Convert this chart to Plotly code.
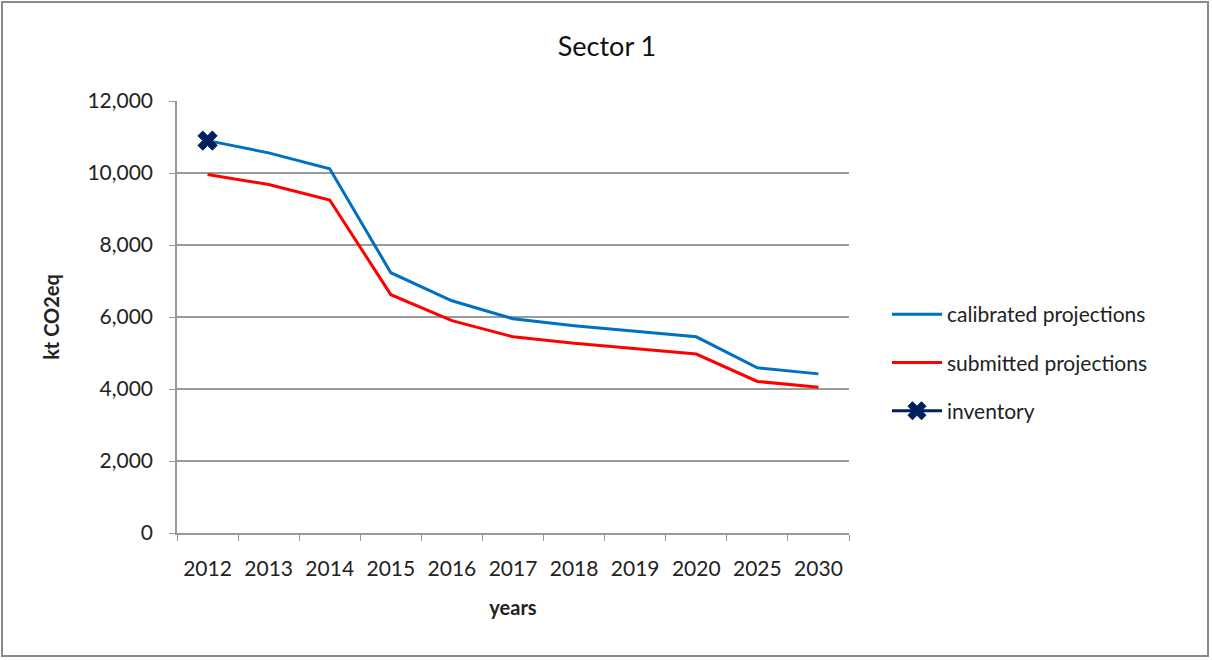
import plotly.graph_objects as go

years = ["2012", "2013", "2014", "2015", "2016", "2017", "2018", "2019", "2020", "2025", "2030"]
calibrated = [10900, 10560, 10120, 7230, 6450, 5950, 5760, 5610, 5450, 4590, 4420]
submitted = [9960, 9680, 9250, 6620, 5900, 5450, 5270, 5120, 4970, 4210, 4050]
inventory_years = ["2012"]
inventory = [10900]

font_family = "Lato, 'Open Sans', sans-serif"

fig = go.Figure()
fig.add_trace(go.Scatter(x=years, y=calibrated, mode="lines", name="calibrated projections",
                         line=dict(color="#0070C0", width=3), legendgroup="a"))
fig.add_trace(go.Scatter(x=years, y=submitted, mode="lines", name="submitted projections",
                         line=dict(color="#FF0000", width=3), legendgroup="b"))
fig.add_trace(go.Scatter(x=inventory_years, y=inventory, mode="lines+markers", name="inventory",
                         line=dict(color="#002060", width=3),
                         marker=dict(symbol="x", size=17, color="#002060",
                                     line=dict(width=1, color="#002060")),
                         legendgroup="c"))

fig.update_layout(
    width=1212, height=660,
    margin=dict(l=177, r=363, t=101, b=127),
    paper_bgcolor="white", plot_bgcolor="white",
    font=dict(family=font_family, size=21, color="#222222"),
    title=dict(text="Sector 1", x=607 / 1212, xanchor="center", y=1 - 47 / 660, yanchor="middle",
               font=dict(size=27, color="#111111")),
    showlegend=True,
    legend=dict(x=(887 - 177) / 672, xanchor="left", y=(533 - 294) / 432, yanchor="top",
                font=dict(size=21, color="#222222"), traceorder="grouped", tracegroupgap=18,
                itemwidth=50, bgcolor="rgba(0,0,0,0)"),
    xaxis=dict(type="category", tickson="boundaries", ticks="outside", ticklen=6,
               tickcolor="#999999", showline=True, linecolor="#999999", linewidth=1.5,
               showgrid=False, tickfont=dict(size=21), ticklabelstandoff=16,
               title=dict(text="<b>years</b>", font=dict(size=20), standoff=22),
               range=[-0.5, 10.5]),
    yaxis=dict(range=[0, 12000], dtick=2000, tickformat=",d", ticks="outside", ticklen=6,
               tickcolor="#999999", showline=True, linecolor="#999999", linewidth=1.5,
               showgrid=True, gridcolor="#9a9a9a", gridwidth=1.5, zeroline=False,
               tickfont=dict(size=21), ticklabelstandoff=12,
               title=dict(text="<b>kt CO2eq</b>", font=dict(size=20), standoff=22)),
    shapes=[dict(type="rect", xref="paper", yref="paper",
                 x0=(2 - 177) / 672, x1=(1208 - 177) / 672,
                 y0=(533 - 656) / 432, y1=(533 - 2) / 432,
                 line=dict(color="#8a8a8a", width=2), fillcolor="rgba(0,0,0,0)")],
)

fig.write_html("out.html")
